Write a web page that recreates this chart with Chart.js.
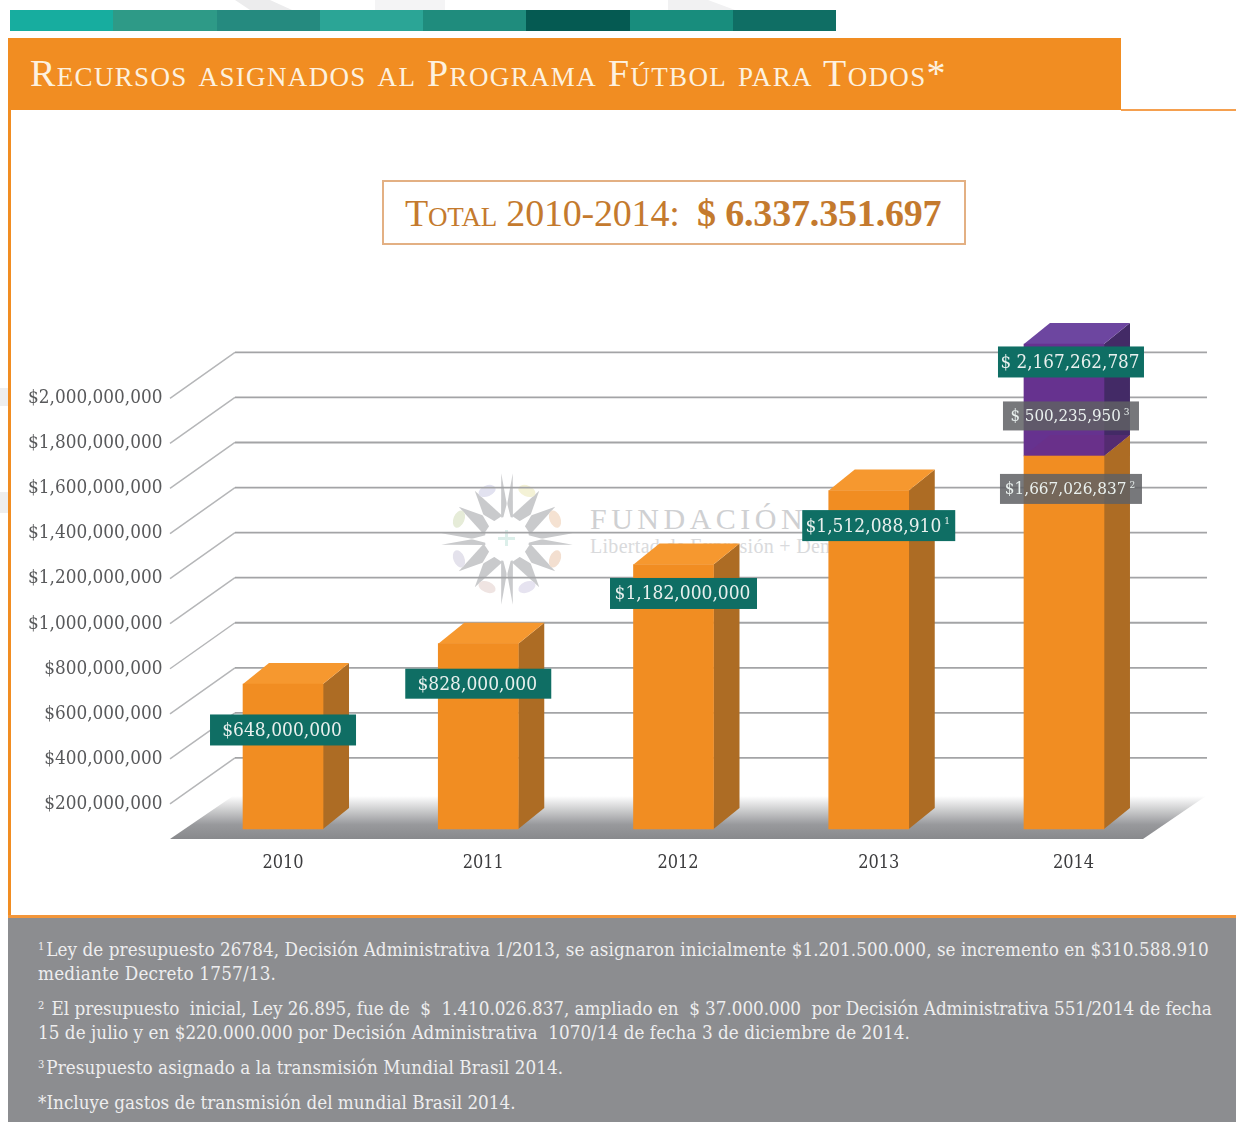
<!DOCTYPE html>
<html>
<head>
<meta charset="utf-8">
<title>Recursos asignados al Programa Fútbol para Todos</title>
<script src="https://cdn.jsdelivr.net/npm/chart.js@4"></script>
<style>
  html, body { margin: 0; padding: 0; background: #fff; }
  body { position: relative; width: 1236px; height: 1122px; overflow: hidden; }
  .abs { position: absolute; }
  #chart { position: absolute; left: 0; top: 0; }
  .seg { position: absolute; top: 10px; height: 21px; }
  #header { left: 8px; top: 38px; width: 1113px; height: 72px; background: #f18d22; }
  #title {
    left: 30px; top: 51px; color: #fdf1df; white-space: nowrap;
    font: 38px "Liberation Serif", serif; font-variant: small-caps; letter-spacing: 1.35px;
  }
  #rule { left: 1121px; top: 109px; width: 115px; height: 2px; background: #f5a04f; }
  #leftbar { left: 8px; top: 110px; width: 3px; height: 808px; background: #f18d22; }
  #botbar { left: 8px; top: 915px; width: 1228px; height: 3px; background: #f3963a; }
  #footer { left: 8px; top: 918px; width: 1228px; height: 204px; background: #8c8d90; }
  #total {
    left: 382px; top: 180px; width: 580px; height: 61px; border: 2px solid #e3b083;
    color: #c47a2e; font: 38px "Liberation Serif", serif; white-space: nowrap; line-height: 62px;
  }
  #total span.lbl { position: absolute; left: 21px; font-variant: small-caps; letter-spacing: -.2px; }
  #total span.val { position: absolute; left: 313px; font-weight: bold; letter-spacing: -.17px; }
  .note {
    position: absolute; left: 38px; color: #eeeeef; white-space: pre; line-height: 24px;
    font: 18.7px "DejaVu Serif Condensed", "DejaVu Serif", serif;
  }
  .note sup { font-size: 11px; line-height: 0; vertical-align: 6px; margin-right: 2px; }
  #wm1 { left: 590px; top: 502px; color: #cfd0d2; font: 30px "Liberation Serif", serif; letter-spacing: 4.5px; white-space: nowrap; }
  #wm2 { left: 590px; top: 535px; color: #d9dadc; font: 20px "Liberation Serif", serif; letter-spacing: .3px; white-space: nowrap; }
</style>
</head>
<body>
<svg class="abs" style="left:0;top:0" width="1236" height="1122" id="ghost">
  <polygon points="235,0 270,0 292,10 250,10" fill="#ececed"/>
  <polygon points="375,0 445,0 445,10 375,10" fill="#f4f4f5"/>
  <polygon points="668,0 708,0 735,10 668,10" fill="#f1f1f2"/>
  <rect x="0" y="388" width="8" height="18" fill="#eeeeef"/>
  <rect x="0" y="492" width="8" height="21" fill="#eeeeef"/>
</svg>
<div class="abs" id="header"></div>
<div class="abs" id="title">Recursos asignados al Programa Fútbol para Todos*</div>
<div class="abs" id="rule"></div>
<div class="abs" id="leftbar"></div>
<div class="abs" id="total"><span class="lbl">Total 2010-2014:</span><span class="val">$ 6.337.351.697</span></div>
<div class="abs" id="wm1">FUNDACIÓN</div>
<div class="abs" id="wm2">Libertad de Expresión + Democracia</div>
<svg class="abs" style="left:0;top:0" width="1236" height="1122" id="logo"></svg>
<div class="abs" id="botbar"></div>
<div class="abs" id="footer"></div>
<div class="note" style="top:939px;letter-spacing:.06px"><sup>1</sup>Ley de presupuesto 26784, Decisión Administrativa 1/2013, se asignaron inicialmente $1.201.500.000, se incremento en $310.588.910</div>
<div class="note" style="top:963px;letter-spacing:.2px">mediante Decreto 1757/13.</div>
<div class="note" style="top:998px;letter-spacing:-.04px"><sup>2</sup> El presupuesto  inicial, Ley 26.895, fue de  $  1.410.026.837, ampliado en  $ 37.000.000  por Decisión Administrativa 551/2014 de fecha</div>
<div class="note" style="top:1022px;letter-spacing:.04px">15 de julio y en $220.000.000 por Decisión Administrativa  1070/14 de fecha 3 de diciembre de 2014.</div>
<div class="note" style="top:1057px;letter-spacing:.05px"><sup>3</sup>Presupuesto asignado a la transmisión Mundial Brasil 2014.</div>
<div class="note" style="top:1092px">*Incluye gastos de transmisión del mundial Brasil 2014.</div>
<canvas id="chart" width="1236" height="1122"></canvas>

<script>
const years = ['2010', '2011', '2012', '2013', '2014'];
const presupuesto = [648000000, 828000000, 1182000000, 1512088910, 1667026837];
const mundial = [null, null, null, null, 500235950];
const tickValues = [200000000, 400000000, 600000000, 800000000, 1000000000,
  1200000000, 1400000000, 1600000000, 1800000000, 2000000000];
const badgeValues = [648000000, 828000000, 1182000000, 1512088910, 2167262787, 500235950, 1667026837];
const badgeTexts = ['$648,000,000', '$828,000,000', '$1,182,000,000', '$1,512,088,910',
  '$ 2,167,262,787', '$ 500,235,950', '$1,667,026,837'];
const badgeNotes = ['', '', '', '1', '', '3', '2'];

// colores de la barra de arriba
const stripColors = ['#17ad9f', '#2e9a87', '#258a7f', '#2ba596', '#1f8c7d', '#055a52', '#188d7d', '#0f6e64'];
stripColors.forEach((c, i) => {
  const d = document.createElement('div');
  d.className = 'seg';
  d.style.left = (10 + i * 103.25) + 'px';
  d.style.width = '103.5px';
  d.style.background = c;
  document.body.appendChild(d);
});

// logo de la fundacion (marca de agua)
const logo = document.getElementById('logo');
let logoSvg = '';
const cx = 507, cy = 539;
for (let i = 0; i < 16; i++) {
  const nearAxis = (i % 4 === 3 || i % 4 === 0);
  let deg = i * 22.5 + 11.25;
  if (i % 4 === 0) deg = (i / 4) * 90 + 5;
  if (i % 4 === 3) deg = ((i + 1) / 4) * 90 - 5;
  const a = deg * Math.PI / 180;
  const len = nearAxis ? 66 : 58;
  const half = nearAxis ? 4 : 9;
  const ux = Math.cos(a), uy = Math.sin(a), nx = -uy, ny = ux;
  logoSvg += `<polygon fill="#c9cacc" points="${cx + ux * len},${cy + uy * len} ` +
    `${cx + ux * 22 + nx * half},${cy + uy * 22 + ny * half} ${cx + ux * 22 - nx * half},${cy + uy * 22 - ny * half}"/>`;
}
let starPts = '';
for (let i = 0; i < 16; i++) {
  const a = i * Math.PI / 8;
  const r = i % 2 ? 15 : 36;
  starPts += `${cx + Math.cos(a) * r},${cy + Math.sin(a) * r} `;
}
logoSvg += `<polygon fill="#fff" points="${starPts}"/>`;
const ovalColors = ['#f3dfd0', '#e6e3f0', '#efe4e2', '#e4e2ec', '#e6ecd8', '#e2e2f0', '#f4f2d6', '#f5e2d2'];
ovalColors.forEach((c, i) => {
  const a = i * Math.PI / 4 + Math.PI / 8;
  const x = cx + Math.cos(a) * 52, y = cy + Math.sin(a) * 52;
  logoSvg += `<ellipse cx="${x}" cy="${y}" rx="9" ry="5.5" fill="${c}" transform="rotate(${a * 180 / Math.PI + 90} ${x} ${y})"/>`;
});
logoSvg += `<rect x="505" y="530" width="3" height="16" fill="#dcefea"/><rect x="498" y="537" width="17" height="3" fill="#dcefea"/>`;
logo.innerHTML = logoSvg;

const serif = '"DejaVu Serif Condensed", "DejaVu Serif", serif';
const barWidth = 80;
const depthX = 26, depthY = 21;
const yearNudge = [0, 5, 4.5, 10, 9.5];

function face(ctx, pts, color) {
  ctx.fillStyle = color;
  ctx.beginPath();
  pts.forEach((p, i) => i ? ctx.lineTo(p[0], p[1]) : ctx.moveTo(p[0], p[1]));
  ctx.closePath();
  ctx.fill();
}

// piso y lineas de grilla en perspectiva
const backdrop = {
  id: 'backdrop',
  beforeDatasetsDraw(chart) {
    const ctx = chart.ctx, y = chart.scales.y;
    ctx.save();
    tickValues.forEach(v => {
      const py = y.getPixelForValue(v);
      ctx.strokeStyle = '#b5b6b8';
      ctx.lineWidth = 1.5;
      ctx.beginPath();
      ctx.moveTo(170, py);
      ctx.lineTo(235, py - 46);
      ctx.stroke();
      ctx.strokeStyle = '#a3a4a6';
      ctx.lineWidth = 1.8;
      ctx.beginPath();
      ctx.moveTo(235, py - 46);
      ctx.lineTo(1207, py - 46);
      ctx.stroke();
    });
    const g = ctx.createLinearGradient(0, 796, 0, 840);
    g.addColorStop(0, 'rgba(255,255,255,1)');
    g.addColorStop(0.65, '#98999c');
    g.addColorStop(1, '#87888b');
    face(ctx, [[170, 839], [1143, 839], [1206, 796], [233, 796]], g);
    ctx.restore();
  }
};

// caras laterales y superiores de cada columna
const box3d = {
  id: 'box3d',
  beforeDatasetsDraw(chart) {
    const ctx = chart.ctx;
    const low = chart.getDatasetMeta(0).data, high = chart.getDatasetMeta(1).data;
    ctx.save();
    low.forEach((b, i) => {
      const r = b.x + barWidth / 2, l = b.x - barWidth / 2;
      face(ctx, [[r, b.base], [r + depthX, b.base - depthY], [r + depthX, b.y - depthY], [r, b.y]], '#ad6c24');
      face(ctx, [[l, b.y], [l + depthX, b.y - depthY], [r + depthX, b.y - depthY], [r, b.y]], '#f6982f');
      if (mundial[i] !== null) {
        const t = high[i];
        face(ctx, [[r, b.y], [r + depthX, b.y - depthY], [r + depthX, t.y - depthY], [r, t.y]], '#432a66');
        face(ctx, [[l, t.y], [l + depthX, t.y - depthY], [r + depthX, t.y - depthY], [r, t.y]], '#6d46a0');
      }
    });
    ctx.restore();
  },
  afterDatasetsDraw(chart) {
    const ctx = chart.ctx;
    const low = chart.getDatasetMeta(0).data;
    ctx.save();
    low.forEach((b, i) => {
      if (mundial[i] === null) return;
      const r = b.x + barWidth / 2, l = b.x - barWidth / 2;
      face(ctx, [[l, b.y], [l + depthX, b.y - depthY], [r + depthX, b.y - depthY], [r, b.y]], 'rgba(110,45,130,.4)');
    });
    ctx.restore();
  }
};

// etiquetas de valor, ancladas a la escala de las barras
const badgeStyle = [
  { dx: 0, dy: 46, w: 146, h: 31, fill: '#0f6e64' },
  { dx: 0, dy: 40, w: 146, h: 30, fill: '#0f6e64' },
  { dx: 10, dy: 29, w: 147, h: 31, fill: '#0f6e64' },
  { dx: 10, dy: 35, w: 153, h: 31, fill: '#0f6e64' },
  { dx: 7, dy: 18, w: 146, h: 31, fill: '#0f6e64', font: 18.7 },
  { dx: 7, dy: 16, w: 136, h: 29, fill: 'rgba(95,96,100,.85)', font: 16.8 },
  { dx: 7, dy: 33, w: 142, h: 30, fill: 'rgba(95,96,100,.85)', font: 17 }
];
const badgeBar = [0, 1, 2, 3, 4, 4, 4];
const badges = {
  id: 'badges',
  afterDatasetsDraw(chart) {
    const ctx = chart.ctx, y = chart.scales.yBars, x = chart.scales.x;
    ctx.save();
    badgeValues.forEach((v, i) => {
      const s = badgeStyle[i];
      const cxb = x.getPixelForValue(badgeBar[i]) + s.dx;
      // la etiqueta del mundial queda a mitad del tramo violeta
      const ref = i === 5 ? presupuesto[4] + v / 2 : v;
      const cyb = y.getPixelForValue(ref) + s.dy;
      ctx.fillStyle = s.fill;
      ctx.fillRect(cxb - s.w / 2, cyb - s.h / 2, s.w, s.h);
      ctx.font = (s.font || 19) + 'px ' + serif;
      ctx.fillStyle = '#e9f0ee';
      ctx.textBaseline = 'middle';
      ctx.textAlign = 'left';
      const tw = ctx.measureText(badgeTexts[i]).width;
      ctx.font = '10px ' + serif;
      const nw = badgeNotes[i] ? ctx.measureText(badgeNotes[i]).width + 3 : 0;
      const sx = cxb - (tw + nw) / 2 - 1;
      ctx.font = (s.font || 19) + 'px ' + serif;
      ctx.fillText(badgeTexts[i], sx, cyb + 1);
      if (badgeNotes[i]) {
        ctx.font = '10px ' + serif;
        ctx.fillText(badgeNotes[i], sx + tw + 3, cyb - 4);
      }
    });
    ctx.restore();
  }
};

new Chart(document.getElementById('chart'), {
  type: 'bar',
  data: {
    labels: years,
    datasets: [
      { label: 'Presupuesto', data: presupuesto, backgroundColor: '#f18d22', yAxisID: 'yBars', barThickness: barWidth, borderSkipped: false },
      { label: 'Mundial Brasil 2014', data: mundial, backgroundColor: '#66328f', yAxisID: 'yBars', barThickness: barWidth, borderSkipped: false }
    ]
  },
  options: {
    responsive: false,
    animation: false,
    layout: { padding: { left: 0, right: 74.4, top: 259.1, bottom: 243 } },
    plugins: { legend: { display: false }, tooltip: { enabled: false } },
    scales: {
      x: {
        stacked: true,
        grid: { display: false, drawTicks: false },
        border: { display: false },
        afterFit: s => {
          s.height = 30;
          // los anos no quedan centrados bajo cada columna en el original
          const basePixel = s.getPixelForValue.bind(s);
          s.getPixelForTick = i => basePixel(i) + yearNudge[i];
        },
        ticks: {
          color: '#3d3d3f', font: { family: serif, size: 18 }, padding: 4,
          maxRotation: 0, autoSkip: false
        }
      },
      y: {
        type: 'linear',
        position: 'left',
        min: 0,
        max: 2618000000,
        grid: { display: false, drawTicks: false },
        border: { display: false },
        afterFit: s => { s.width = 185.4; },
        afterBuildTicks: s => { s.ticks = tickValues.map(v => ({ value: v })); },
        ticks: {
          color: '#58595b', font: { family: serif, size: 18.8 }, padding: 23,
          callback: v => '$' + Number(v).toLocaleString('en-US')
        }
      },
      yBars: {
        type: 'linear',
        position: 'right',
        display: false,
        stacked: true,
        min: -89400000,
        max: 2546500000
      }
    }
  },
  plugins: [backdrop, box3d, badges]
});
</script>
</body>
</html>
